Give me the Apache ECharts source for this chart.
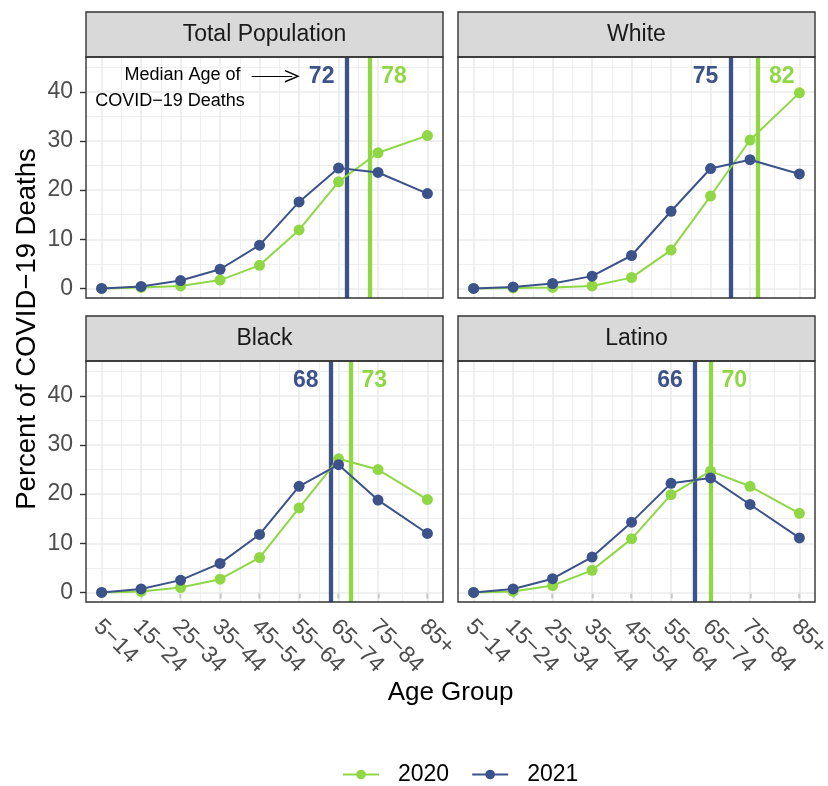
<!DOCTYPE html>
<html><head><meta charset="utf-8">
<script src="https://cdn.jsdelivr.net/npm/echarts@6/dist/echarts.min.js"></script>
<style>html,body{margin:0;padding:0;background:#fff}#c{width:828px;height:786px}</style>
</head><body><div id="c"></div>
<script>
// ---------- data ----------
const ageGroups = ['5\u221214','15\u221224','25\u221234','35\u221244','45\u221254','55\u221264','65\u221274','75\u221284','85+'];
const ageMid = [10,20,30,40,50,60,70,80,92.5];
const xMinor = [15,25,35,45,55,65,75,86.25];
const yMajor = [0,10,20,30,40];
const yMinor = [5,15,25,35,45];
const panels = ['Total Population','White','Black','Latino'];
const total2020 = [0,0.2,0.5,1.7,4.7,11.9,21.7,27.6,31.1];
const total2021 = [0,0.4,1.6,3.9,8.8,17.6,24.5,23.6,19.3];
const white2020 = [0,0.1,0.2,0.5,2.2,7.8,18.8,30.2,39.8];
const white2021 = [0,0.3,1.0,2.5,6.7,15.7,24.4,26.2,23.3];
const black2020 = [0,0.2,1.0,2.7,7.1,17.2,27.2,25.0,18.9];
const black2021 = [0,0.7,2.5,5.9,11.8,21.6,26.0,18.8,12.0];
const latino2020 = [0,0.2,1.4,4.5,10.9,19.9,24.7,21.6,16.1];
const latino2021 = [0,0.7,2.8,7.2,14.3,22.2,23.3,17.9,11.1];
const median2020 = [78,82,73,70];
const median2021 = [72,75,68,66];
const annotLine1 = 'Median Age of';
const annotLine2 = 'COVID\u221219 Deaths';
const yTitle = 'Percent of COVID\u221219 Deaths';
const xTitle = 'Age Group';

// ---------- style ----------
const FONT = "'Liberation Sans', Arial, Helvetica, sans-serif";
const GREEN = '#8FD744', BLUE = '#3B528B';
const values2020 = [total2020, white2020, black2020, latino2020];
const values2021 = [total2021, white2021, black2021, latino2021];
const W = 357, H = 241;
const gridPos = [[86,57],[458,57],[86,361],[458,361]];
const stripPos = [[86,12],[458,12],[86,316],[458,316]];
const X_MIN = 6.05, X_MAX = 96.45, Y_MIN = -1.95, Y_MAX = 47.1;

const grids = gridPos.map(p => ({left:p[0], top:p[1], width:W, height:H, show:false,
  containLabel:false, outerBoundsMode:'none'}));
const xAxes = gridPos.map((p,i) => ({
  type:'value', gridIndex:i, min:X_MIN, max:X_MAX,
  splitLine:{show:false}, axisLine:{show:false},
  axisTick:{show:i>=2, customValues:ageMid, length:6, lineStyle:{color:'#333', width:1.4}},
  axisLabel:{show:i>=2, customValues:ageMid, rotate:-45, margin:17, verticalAlign:'top', lineHeight:12, hideOverlap:false,
    fontSize:23, color:'#4D4D4D', fontFamily:FONT,
    formatter: v => { const k = ageMid.indexOf(v); return k >= 0 ? ageGroups[k] : ''; }}
}));
const yAxes = gridPos.map((p,i) => ({
  type:'value', gridIndex:i, min:Y_MIN, max:Y_MAX,
  splitLine:{show:false}, axisLine:{show:false},
  axisTick:{show:i%2===0, customValues:yMajor, length:6, lineStyle:{color:'#333', width:1.4}},
  axisLabel:{show:i%2===0, customValues:yMajor, margin:13, fontSize:23, color:'#4D4D4D', fontFamily:FONT}
}));

const series = [];
panels.forEach((name,i) => {
  const gl = [];
  ageMid.forEach(v => gl.push({xAxis:v, lineStyle:{width:1.6}}));
  xMinor.forEach(v => gl.push({xAxis:v, lineStyle:{width:0.8}}));
  yMajor.forEach(v => gl.push({yAxis:v, lineStyle:{width:1.6}}));
  yMinor.forEach(v => gl.push({yAxis:v, lineStyle:{width:0.8}}));
  series.push({type:'line', xAxisIndex:i, yAxisIndex:i, data:[], z:1, silent:true, animation:false,
    markLine:{z:1, silent:true, symbol:'none', label:{show:false}, animation:false,
      lineStyle:{color:'#EBEBEB', type:'solid'}, emphasis:{disabled:true}, data:gl}});
  const mpData = [
    {coord:[median2021[i],43.2], label:{formatter:String(median2021[i]), position:'left', distance:12, color:BLUE}},
    {coord:[median2020[i],43.2], label:{formatter:String(median2020[i]), position:'right', distance:11, color:GREEN}}
  ];
  const mlData = [
    {xAxis:median2021[i], lineStyle:{color:BLUE}},
    {xAxis:median2020[i], lineStyle:{color:GREEN}}
  ];
  const helper = {type:'line', xAxisIndex:i, yAxisIndex:i, data:[], z:2, silent:true, animation:false,
    markLine:{z:2, silent:true, symbol:'none', label:{show:false}, animation:false, emphasis:{disabled:true},
      lineStyle:{width:4.3, type:'solid'}, data:mlData},
    markPoint:{z:2, silent:true, symbol:'circle', symbolSize:0, animation:false,
      label:{show:true, fontSize:23, fontWeight:'bold', fontFamily:FONT}, data:mpData}};
  if (i === 0) {
    helper.markPoint.data.push(
      {coord:[30.5,43.4], label:{formatter:annotLine1, position:'inside', color:'#000', fontWeight:'normal', fontSize:18}},
      {coord:[27.3,38.1], label:{formatter:annotLine2, position:'inside', color:'#000', fontWeight:'normal', fontSize:18}}
    );
    helper.markLine.data.push([
      {coord:[48.0,43.2], symbol:'none', lineStyle:{color:'#000', width:1}},
      {coord:[58.3,43.2], symbol:'path://M0,10 L5,0 L10,10 L8.8,10 L5,2.4 L1.2,10 Z', symbolSize:[13,15]}
    ]);
  }
  series.push(helper);
  series.push({name:'2020', type:'line', xAxisIndex:i, yAxisIndex:i, z:3, animation:false,
    data: ageMid.map((x,j)=>[x, values2020[i][j]]),
    symbol:'circle', symbolSize:11, color:GREEN, lineStyle:{width:2, color:GREEN}, itemStyle:{color:GREEN}});
  series.push({name:'2021', type:'line', xAxisIndex:i, yAxisIndex:i, z:4, animation:false,
    data: ageMid.map((x,j)=>[x, values2021[i][j]]),
    symbol:'circle', symbolSize:11, color:BLUE, lineStyle:{width:2, color:BLUE}, itemStyle:{color:BLUE}});
});

const graphic = [];
stripPos.forEach((p,i) => {
  graphic.push({type:'rect', shape:{x:p[0], y:p[1], width:W, height:45}, style:{fill:'#D9D9D9', stroke:'#333', lineWidth:1.4}, z:10});
  graphic.push({type:'text', x:p[0]+W/2, y:p[1]+23, style:{text:panels[i], fontSize:23, fontFamily:FONT, fill:'#1A1A1A', textAlign:'center', textVerticalAlign:'middle'}, z:11});
});
gridPos.forEach(p => {
  graphic.push({type:'rect', shape:{x:p[0], y:p[1], width:W, height:H}, style:{fill:null, stroke:'#333', lineWidth:1.4}, z:50, silent:true});
});
graphic.push({type:'text', x:27, y:329, rotation:Math.PI/2, style:{text:yTitle, fontSize:27.5, fontFamily:FONT, fill:'#000', textAlign:'center', textVerticalAlign:'middle'}});
graphic.push({type:'text', x:450.5, y:693, style:{text:xTitle, fontSize:26, fontFamily:FONT, fill:'#000', textAlign:'center', textVerticalAlign:'middle'}});

const chart = echarts.init(document.getElementById('c'), null, {renderer:'canvas'});
chart.setOption({
  animation:false,
  backgroundColor:'#fff',
  textStyle:{fontFamily:FONT},
  grid:grids, xAxis:xAxes, yAxis:yAxes, series:series, graphic:graphic,
  legend:{data:['2020','2021'], left:337, top:758, itemWidth:36, itemHeight:12, itemGap:22,
    textStyle:{fontSize:23, color:'#000', fontFamily:FONT, padding:[0,0,0,14]}}
});
</script></body></html>
